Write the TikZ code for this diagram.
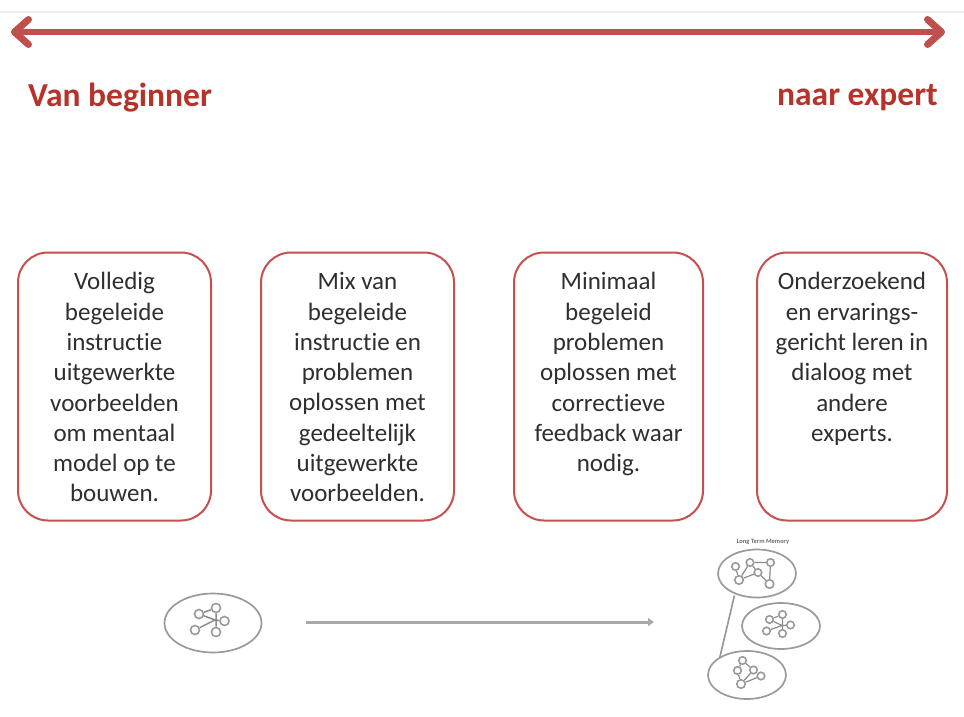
\documentclass[tikz,border=0pt]{standalone}
\usepackage{fontspec}
\setmainfont[Ligatures=NoCommon]{Carlito}
\usetikzlibrary{arrows.meta,shapes.geometric}
\definecolor{redline}{HTML}{C0504D}
\definecolor{redtext}{HTML}{B5332B}
\definecolor{boxred}{HTML}{C4514E}
\definecolor{bodytext}{HTML}{2F2F2F}
\definecolor{netgray}{HTML}{9A9A9A}
\newcommand{\stepcontent}[1]{\parbox[c][228pt][t]{188pt}{\centering\fontsize{25}{30.3}\selectfont #1}}
\tikzset{
  x=1pt,y=-1pt,
  stagebox/.style={draw=boxred,line width=2pt,rounded corners=30pt,fill=white,text=bodytext,inner sep=0pt,minimum height=268pt},
  headline/.style={text=redtext,font=\fontsize{33.5}{38}\selectfont\bfseries,inner sep=0pt},
  bigarrow/.style={draw=redline,line width=6pt,line cap=round,{Straight Barb[length=14pt,width=25pt,line width=7pt,line cap=round,round]}-{Straight Barb[length=14pt,width=25pt,line width=7pt,line cap=round,round]}},
  grayarrow/.style={draw=netgray!85,line width=3pt,-{Triangle[length=6pt,width=8pt]}},
  memory/.style={draw=netgray,line width=1.7pt,ellipse,inner sep=0pt,fill=white},
  dot/.style={draw=netgray,line width=1.6pt,circle,minimum size=#1,inner sep=0pt,fill=white},
  dot/.default=9pt,
  wire/.style={draw=netgray!90!black,line width=1.5pt},
  tiny/.style={text=netgray!70!black,font=\fontsize{6.5}{7}\selectfont\bfseries,inner sep=0pt}
}
\begin{document}
\begin{tikzpicture}
\useasboundingbox (0,0) rectangle (964,717);
\fill[white] (0,0) rectangle (964,717);
\coordinate (rl) at (0,12); \coordinate (rr) at (964,12);
\draw[draw=black!8,line width=1.6pt] (rl) -- (rr);
\coordinate (al) at (11,32); \coordinate (ar) at (945,32);
\draw[bigarrow] (al) -- (ar);
\node[headline,anchor=west] (van) at (28,98) {Van beginner};
\node[headline,anchor=east] (naar) at (938,98) {naar expert};

\node[stagebox,minimum width=193pt] (b1) at (114.5,386.5) {\stepcontent{Volledig\\begeleide\\instructie\\uitgewerkte\\voorbeelden\\om mentaal\\model op te\\bouwen.}};
\node[stagebox,minimum width=193pt] (b2) at (357.5,386.5) {\stepcontent{Mix van\\begeleide\\instructie en\\problemen\\oplossen met\\gedeeltelijk\\uitgewerkte\\voorbeelden.}};
\node[stagebox,minimum width=189pt] (b3) at (608.5,386.5) {\stepcontent{Minimaal\\begeleid\\problemen\\oplossen met\\correctieve\\feedback waar\\nodig.}};
\node[stagebox,minimum width=190pt] (b4) at (852,386.5) {\stepcontent{Onderzoekend\\en ervarings-\\gericht leren in\\dialoog met\\andere\\experts.}};

% left memory
\node[memory,minimum width=97pt,minimum height=59pt] (e0) at (213,623) {};
\coordinate (h0) at (215,620);
\draw[wire] (199,614) coordinate (a1c) -- (h0);
\node[dot] (a1) at (a1c) {};
\node[dot] (a2) at (216,608) {};
\node[dot] (a3) at (224.5,621) {};
\node[dot] (a4) at (216,632) {};
\node[dot] (a5) at (195,630) {};
\draw[wire] (a2) -- (a4) (a3) -- (h0) (a5) -- (h0) (a1) -- (a2);

\coordinate (gs) at (306,622);
\coordinate (ge) at (654,622);
\draw[grayarrow] (gs) -- (ge);

% right memory
\node[tiny] (ltm) at (763,542) {Long Term Memory};
\node[memory,minimum width=78pt,minimum height=48pt] (e1) at (757,573.5) {};
\node[memory,minimum width=78pt,minimum height=46pt] (e2) at (781,626) {};
\node[memory,minimum width=78pt,minimum height=48pt] (e3) at (747,675) {};
\draw[draw=netgray,line width=1.7pt] (e1.south west) ++(5.6,4.5) coordinate (l1) (e3.north west) ++(1,0) coordinate (l2) (l1) -- (l2);

\node[dot=7.5pt] (n1) at (735.5,566.5) {};
\node[dot=7.5pt] (n2) at (750,562.5) {};
\node[dot=7.5pt] (n3) at (770.5,562.5) {};
\node[dot=7.5pt] (n4) at (758,572.5) {};
\node[dot=8.5pt] (n5) at (739,580) {};
\node[dot=8.5pt] (n6) at (769.5,584) {};
\draw[wire,line width=1.2pt] (n1) -- (n5) (n2) -- (n3) (n3) -- (n6) (n2) -- (n5) (n5) -- (n4) (n2) -- (n4) (n4) -- (n6);

\coordinate (h2) at (782,625.5);
\node[dot=7.5pt] (m1) at (769.5,619.5) {};
\node[dot=7.5pt] (m2) at (782.5,614.5) {};
\node[dot=7.5pt] (m3) at (790.5,625) {};
\node[dot=7.5pt] (m4) at (782.5,633.5) {};
\node[dot=7.5pt] (m5) at (766.5,631) {};
\draw[wire,line width=1.2pt] (m1) -- (h2) (m2) -- (m4) (m3) -- (h2) (m5) -- (h2) (m1) -- (m2);

\node[dot=7.5pt] (p1) at (742.5,660.5) {};
\node[dot=7.5pt] (p2) at (737.5,670.5) {};
\node[dot=7.5pt] (p3) at (753.5,670) {};
\node[dot=7.5pt] (p4) at (761,676) {};
\node[dot=8.5pt] (p5) at (741,684) {};
\draw[wire,line width=1.2pt] (p1) -- (p2) (p1) -- (p3) (p2) -- (p5) (p3) -- (p5) (p5) -- (p4);
\end{tikzpicture}
\end{document}
